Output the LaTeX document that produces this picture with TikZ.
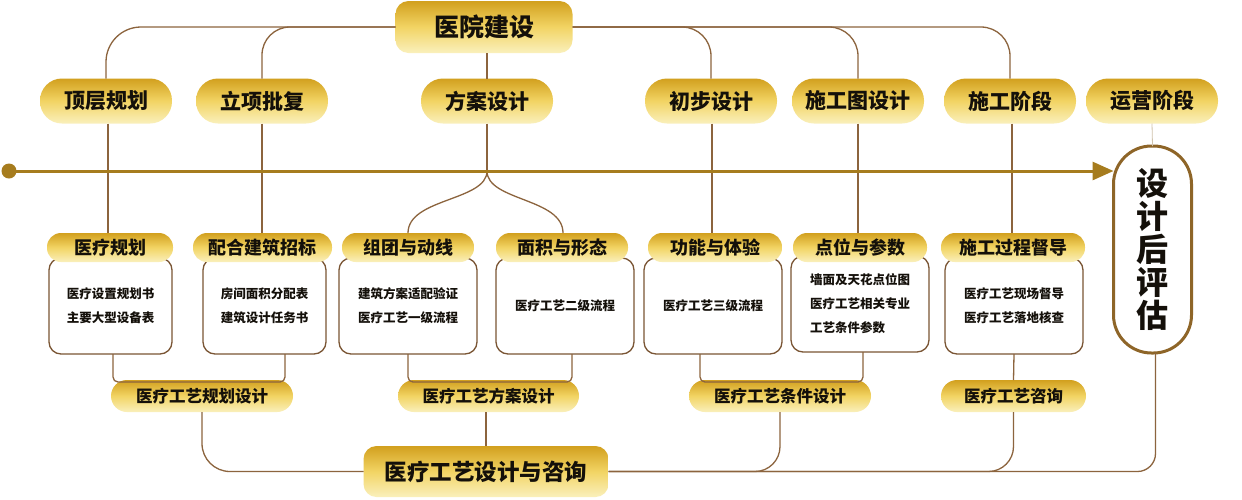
\documentclass[tikz,border=0pt]{standalone}
\usepackage{fontspec}
\setmainfont{Noto Sans CJK SC}
\usetikzlibrary{arrows.meta}
\definecolor{lineC}{RGB}{140,100,62}
\definecolor{boxC}{RGB}{122,85,52}
\definecolor{arrC}{RGB}{166,124,30}
\definecolor{goldA}{RGB}{210,160,30}
\definecolor{goldB}{RGB}{242,212,100}
\definecolor{goldC}{RGB}{250,240,188}
\definecolor{evalC}{RGB}{142,101,40}
\definecolor{faintC}{RGB}{208,195,172}
\definecolor{txtC}{RGB}{20,16,10}
\begin{document}
\begin{tikzpicture}[x=1pt,y=-1pt,
  every node/.style={inner sep=0pt, outer sep=0pt, text=txtC},
  goldfill/.style={rectangle, draw=none, top color=goldA, bottom color=goldC, middle color=goldB},
  toppill/.style={goldfill, rounded corners=13pt, minimum width=177pt, minimum height=52pt, font=\bfseries\fontsize{25}{30}\selectfont},
  bigpill/.style={goldfill, rounded corners=13pt, minimum width=245pt, minimum height=51pt, font=\bfseries\fontsize{22.5}{27}\selectfont},
  stage/.style={goldfill, rounded corners=22pt, minimum width=132pt, minimum height=45pt, font=\bfseries\fontsize{21}{25}\selectfont},
  head/.style={goldfill, rounded corners=14pt, minimum height=29pt, font=\bfseries\fontsize{18}{22}\selectfont},
  sub/.style={goldfill, rounded corners=16pt, minimum height=32pt, font=\bfseries\fontsize{16.5}{20}\selectfont},
  infobox/.style={rectangle, draw=boxC, line width=1.3pt, fill=white, rounded corners=12pt, minimum width=138pt, minimum height=96pt, align=center, font=\bfseries\fontsize{12.5}{24}\selectfont},
  evalbox/.style={rectangle, draw=evalC, line width=3pt, fill=white, rounded corners=38pt, minimum width=78pt, minimum height=207pt, align=center, font=\bfseries\fontsize{32}{33}\selectfont},
  conn/.style={draw=lineC, line width=1.3pt},
  faint/.style={draw=faintC, line width=0.8pt},
  mainarr/.style={draw=arrC, line width=3pt, -{Triangle[length=21pt,width=18pt]}}
]
\useasboundingbox (0,0) rectangle (1242,499);
\fill[white] (0,0) rectangle (1242,499);

% top and stage nodes
\node[toppill] (top) at (484,27) {医院建设};
\node[stage] (p1) at (106,101) {顶层规划};
\node[stage] (p2) at (262,101) {立项批复};
\node[stage] (p3) at (487,101) {方案设计};
\node[stage] (p4) at (711,101) {初步设计};
\node[stage] (p5) at (858,101) {施工图设计};
\node[stage] (p6) at (1010,101) {施工阶段};
\node[stage] (p7) at (1152,101) {运营阶段};

% info boxes
\node[infobox, minimum width=123pt] (b1) at (110.5,306) {医疗设置规划书\\主要大型设备表};
\node[infobox, minimum width=123pt] (b2) at (264.5,306) {房间面积分配表\\建筑设计任务书};
\node[infobox] (b3) at (408,306) {建筑方案适配验证\\医疗工艺一级流程};
\node[infobox] (b4) at (565,306) {医疗工艺二级流程};
\node[infobox] (b5) at (713,306) {医疗工艺三级流程};
\node[infobox, align=left] (b6) at (860,304) {墙面及天花点位图\\医疗工艺相关专业\\工艺条件参数};
\node[infobox] (b7) at (1014,306) {医疗工艺现场督导\\医疗工艺落地核查};

% headers
\node[head, minimum width=126pt] (h1) at (110,247.5) {医疗规划};
\node[head, minimum width=139pt] (h2) at (262.5,247.5) {配合建筑招标};
\node[head, minimum width=132pt] (h3) at (408,247.5) {组团与动线};
\node[head, minimum width=132pt] (h4) at (562,247.5) {面积与形态};
\node[head, minimum width=134pt] (h5) at (715,247.5) {功能与体验};
\node[head, minimum width=134pt] (h6) at (860,247.5) {点位与参数};
\node[head, minimum width=144pt] (h7) at (1013,247.5) {施工过程督导};

% sub pills
\node[sub, minimum width=182pt] (s1) at (202,396) {医疗工艺规划设计};
\node[sub, minimum width=181pt] (s2) at (488.5,396) {医疗工艺方案设计};
\node[sub, minimum width=182pt] (s3) at (780,396) {医疗工艺条件设计};
\node[sub, minimum width=145pt] (s4) at (1013.5,396) {医疗工艺咨询};

\node[bigpill] (big) at (486,471.5) {医疗工艺设计与咨询};
\node[evalbox] (eval) at (1152.5,249.5) {设\\计\\后\\评\\估};

% top bus
\draw[conn, rounded corners=35pt] (p1.north) |- (top.west);
\draw[conn, rounded corners=28pt] (p2.north) |- (top.west);
\draw[conn] (top.south -| p3.north) -- (p3.north);
\draw[conn, rounded corners=29pt] (top.east) -| (p4.north);
\draw[conn, rounded corners=29pt] (top.east) -| (p5.north);
\draw[conn, rounded corners=29pt] (top.east) -| (p6.north);
\draw[faint] (p7.south) -- (eval.north);

% stage to headers
\draw[conn] ([xshift=2pt]p1.south) -- ([xshift=2pt]p1.south |- h1.north);
\draw[conn] (p2.south) -- (p2.south |- h2.north);
\coordinate (split) at (487,171);
\draw[conn] (p3.south) -- (split);
\draw[conn] (split) .. controls (487,201) and (408,198) .. (h3.north);
\draw[conn] (split) .. controls (487,201) and (563,198) .. ([xshift=1pt]h4.north);
\draw[conn] ([xshift=1pt]p4.south) -- ([xshift=1pt]p4.south |- h5.north);
\draw[conn] (p5.south) -- (p5.south |- h6.north);
\draw[conn] ([xshift=2pt]p6.south) -- ([xshift=2pt]p6.south |- h7.north);

% brackets to sub pills
\draw[conn, rounded corners=5pt] ([xshift=2.5pt]b1.south) |- ([yshift=-2pt]s1.north) -| ([xshift=20.5pt]b2.south);
\draw[conn, rounded corners=5pt] (b3.south) |- ([yshift=-2pt]s2.north) -| ([xshift=7pt]b4.south);
\draw[conn, rounded corners=5pt] ([xshift=-13pt]b5.south) |- ([yshift=-2pt]s3.north) -| ([xshift=3pt]b6.south);
\draw[conn] (b7.south) -- (s4.north);

% sub pills to big
\draw[conn, rounded corners=28pt] (s1.south) |- (big.west);
\draw[conn] (s2.south -| big.north) -- (big.north);
\draw[conn, rounded corners=25pt] (s3.south) |- (big.east);
\draw[conn, rounded corners=25pt] (s4.south) |- (big.east);
\draw[conn, rounded corners=18pt] ([xshift=3pt]eval.south) |- (big.east);

% main arrow
\coordinate (st) at (9,171);
\draw[mainarr] (st) -- (eval.west |- st);
\fill[arrC] (st) circle (7.5pt);
\end{tikzpicture}
\end{document}
